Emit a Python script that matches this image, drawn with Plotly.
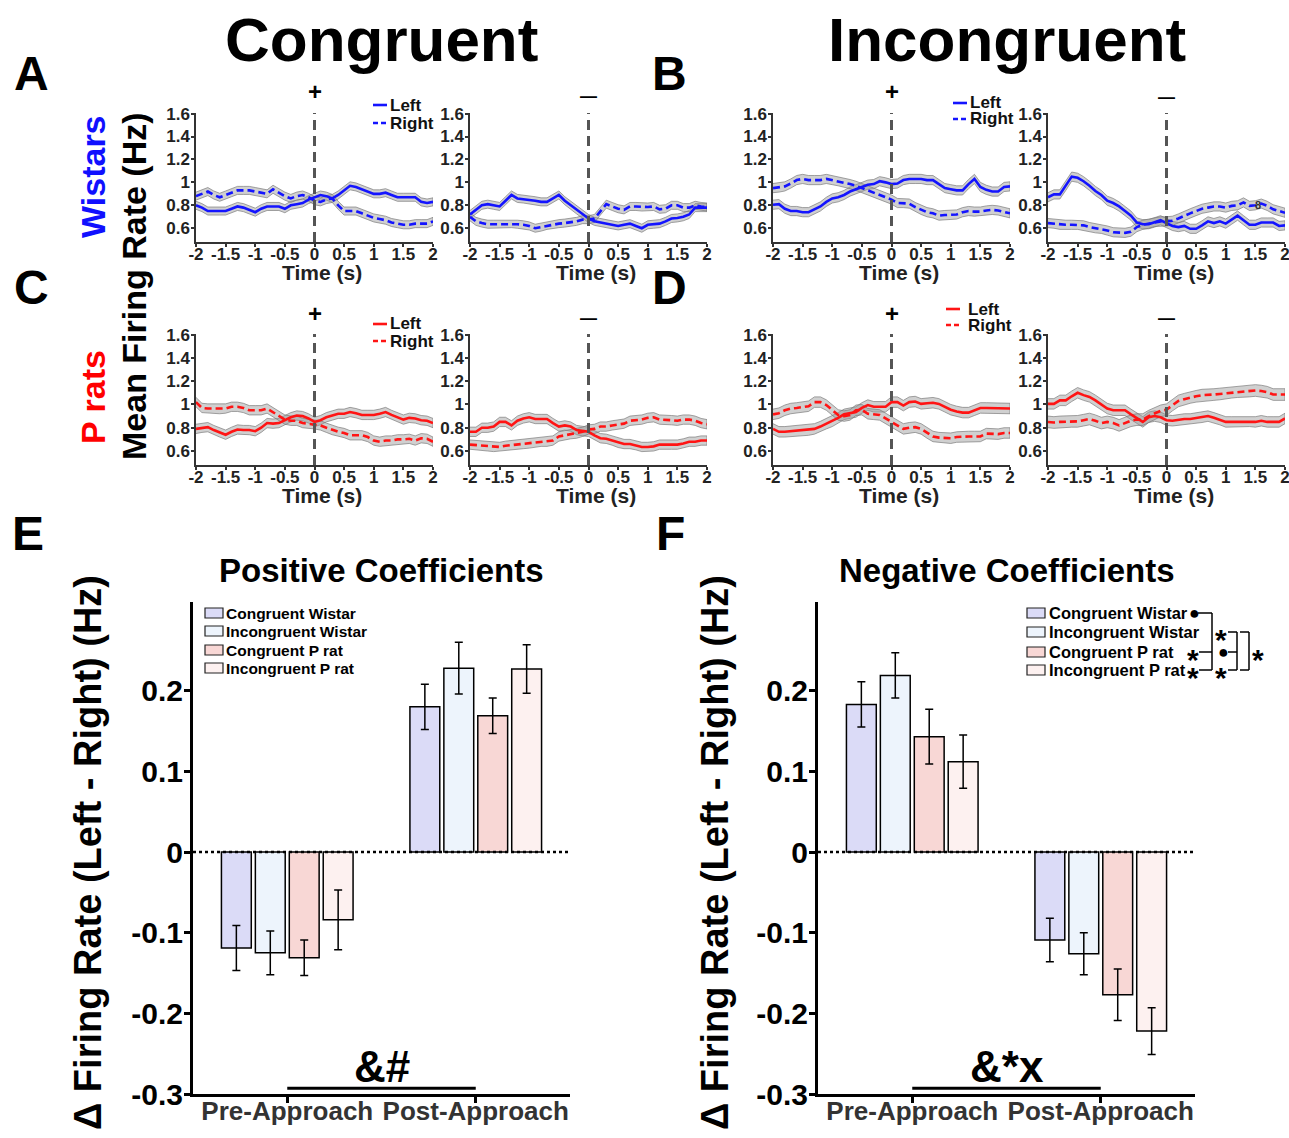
import numpy as np
import plotly.graph_objects as go

W, H = 1289, 1138
FONT = "Liberation Sans, Arial, Helvetica, sans-serif"
BLUE = "#1414ff"
RED = "#ff1414"

# ---------------- time-course data (mean firing rate, Hz) ----------------
time_s = np.round(np.arange(-2.0, 2.05, 0.1), 1).tolist()   # 41 samples, -2 .. 2 s

# A : Congruent, Wistar, positive (+) coefficients
A_pos_left = [0.80, 0.78, 0.75, 0.75, 0.75, 0.75, 0.77, 0.79, 0.78, 0.76,
              0.74, 0.77, 0.79, 0.79, 0.79, 0.77, 0.80, 0.81, 0.82, 0.85,
              0.87, 0.89, 0.88, 0.86, 0.89, 0.93, 0.97, 0.96, 0.94, 0.92,
              0.90, 0.90, 0.91, 0.89, 0.87, 0.87, 0.87, 0.87, 0.83, 0.82,
              0.83]
A_pos_right = [0.88, 0.90, 0.92, 0.89, 0.87, 0.89, 0.91, 0.93, 0.93, 0.93,
               0.92, 0.91, 0.90, 0.94, 0.91, 0.88, 0.86, 0.88, 0.89, 0.87,
               0.84, 0.83, 0.85, 0.86, 0.80, 0.75, 0.75, 0.75, 0.73, 0.71,
               0.69, 0.68, 0.67, 0.65, 0.64, 0.63, 0.63, 0.64, 0.64, 0.64,
               0.66]
# A : Congruent, Wistar, negative (-) coefficients
A_neg_left = [0.72, 0.76, 0.80, 0.81, 0.80, 0.79, 0.84, 0.89, 0.86, 0.855,
              0.85, 0.84, 0.83, 0.83, 0.86, 0.89, 0.84, 0.80, 0.76, 0.72,
              0.685, 0.66, 0.65, 0.64, 0.63, 0.62, 0.63, 0.64, 0.62, 0.60,
              0.63, 0.635, 0.64, 0.66, 0.685, 0.69, 0.70, 0.72, 0.78, 0.78,
              0.78]
A_neg_right = [0.70, 0.66, 0.645, 0.635, 0.635, 0.635, 0.64, 0.64, 0.635, 0.63,
               0.62, 0.60, 0.61, 0.625, 0.635, 0.64, 0.645, 0.65, 0.66, 0.675,
               0.675, 0.685, 0.75, 0.81, 0.79, 0.77, 0.76, 0.79, 0.79, 0.785,
               0.785, 0.79, 0.765, 0.77, 0.80, 0.80, 0.78, 0.78, 0.80, 0.79,
               0.785]
# B : Incongruent, Wistar
B_pos_left = [0.805, 0.81, 0.77, 0.75, 0.75, 0.74, 0.74, 0.765, 0.79, 0.83,
              0.86, 0.87, 0.89, 0.92, 0.94, 0.96, 0.98, 0.985, 1.01, 1.00,
              0.985, 0.99, 1.02, 1.03, 1.03, 1.03, 1.02, 1.02, 0.985, 0.95,
              0.94, 0.93, 0.93, 0.985, 1.03, 0.96, 0.935, 0.92, 0.92, 0.96,
              0.965]
B_pos_right = [0.95, 0.955, 0.965, 0.99, 1.02, 1.03, 1.02, 1.02, 1.02, 1.03,
               1.02, 1.01, 1.00, 0.985, 0.97, 0.95, 0.93, 0.915, 0.89, 0.87,
               0.85, 0.82, 0.82, 0.815, 0.785, 0.76, 0.74, 0.73, 0.71, 0.715,
               0.715, 0.72, 0.74, 0.75, 0.745, 0.745, 0.755, 0.76, 0.755, 0.745,
               0.73]
B_neg_left = [0.87, 0.895, 0.895, 0.97, 1.05, 1.04, 1.01, 0.97, 0.925, 0.89,
              0.84, 0.82, 0.79, 0.75, 0.71, 0.65, 0.635, 0.635, 0.65, 0.67,
              0.645, 0.62, 0.61, 0.62, 0.595, 0.595, 0.625, 0.66, 0.645, 0.66,
              0.64, 0.675, 0.71, 0.67, 0.63, 0.63, 0.65, 0.65, 0.65, 0.62,
              0.625]
B_neg_right = [0.645, 0.64, 0.63, 0.63, 0.63, 0.63, 0.625, 0.61, 0.60, 0.595,
               0.58, 0.565, 0.565, 0.56, 0.57, 0.61, 0.63, 0.64, 0.655, 0.66,
               0.66, 0.665, 0.685, 0.71, 0.73, 0.75, 0.77, 0.78, 0.79, 0.79,
               0.78, 0.795, 0.80, 0.825, 0.795, 0.80, 0.815, 0.795, 0.765, 0.75,
               0.735]
# C : Congruent, P rats
C_pos_left = [0.79, 0.80, 0.805, 0.78, 0.76, 0.74, 0.765, 0.785, 0.78, 0.78,
              0.77, 0.80, 0.84, 0.835, 0.84, 0.865, 0.89, 0.905, 0.90, 0.88,
              0.85, 0.865, 0.89, 0.905, 0.92, 0.92, 0.935, 0.925, 0.91, 0.91,
              0.91, 0.92, 0.935, 0.91, 0.89, 0.87, 0.885, 0.88, 0.865, 0.86,
              0.84]
C_pos_right = [1.02, 0.97, 0.965, 0.965, 0.96, 0.965, 0.98, 0.98, 0.97, 0.95,
               0.95, 0.95, 0.965, 0.935, 0.90, 0.87, 0.86, 0.86, 0.84, 0.835,
               0.83, 0.82, 0.80, 0.78, 0.765, 0.755, 0.735, 0.735, 0.735, 0.72,
               0.69, 0.68, 0.69, 0.69, 0.70, 0.70, 0.705, 0.69, 0.71, 0.705,
               0.68]
C_neg_left = [0.765, 0.765, 0.80, 0.80, 0.81, 0.85, 0.85, 0.82, 0.86, 0.88,
              0.89, 0.875, 0.875, 0.875, 0.84, 0.81, 0.82, 0.81, 0.78, 0.77,
              0.765, 0.735, 0.71, 0.705, 0.69, 0.67, 0.66, 0.66, 0.65, 0.635,
              0.635, 0.64, 0.655, 0.655, 0.655, 0.655, 0.665, 0.68, 0.68, 0.69,
              0.69]
C_neg_right = [0.655, 0.65, 0.645, 0.64, 0.635, 0.635, 0.645, 0.65, 0.655, 0.66,
               0.665, 0.67, 0.68, 0.68, 0.69, 0.725, 0.735, 0.745, 0.75, 0.765,
               0.785, 0.79, 0.81, 0.81, 0.82, 0.83, 0.835, 0.86, 0.865, 0.87,
               0.885, 0.89, 0.87, 0.87, 0.865, 0.86, 0.87, 0.87, 0.86, 0.84,
               0.83]
# D : Incongruent, P rats
D_pos_left = [0.79, 0.765, 0.765, 0.77, 0.775, 0.775, 0.78, 0.79, 0.81, 0.835,
              0.855, 0.885, 0.915, 0.925, 0.935, 0.97, 0.995, 0.98, 0.98, 0.98,
              1.02, 1.02, 0.99, 1.02, 1.025, 1.005, 1.01, 1.015, 1.005, 0.98,
              0.955, 0.94, 0.93, 0.93, 0.95, 0.97, 0.97, 0.97, 0.97, 0.965,
              0.965]
D_pos_right = [0.915, 0.925, 0.95, 0.965, 0.97, 0.98, 0.985, 1.02, 1.02, 0.995,
               0.955, 0.91, 0.90, 0.91, 0.95, 0.955, 0.92, 0.915, 0.91, 0.88,
               0.85, 0.82, 0.79, 0.80, 0.805, 0.79, 0.755, 0.725, 0.715, 0.715,
               0.71, 0.72, 0.725, 0.725, 0.725, 0.725, 0.75, 0.75, 0.745, 0.755,
               0.755]
D_neg_left = [1.005, 1.005, 1.035, 1.035, 1.07, 1.10, 1.08, 1.065, 1.035, 1.00,
              0.965, 0.95, 0.95, 0.95, 0.915, 0.88, 0.85, 0.89, 0.90, 0.89,
              0.865, 0.86, 0.87, 0.875, 0.875, 0.885, 0.89, 0.90, 0.885, 0.87,
              0.85, 0.85, 0.85, 0.855, 0.855, 0.85, 0.86, 0.85, 0.85, 0.85,
              0.88]
D_neg_right = [0.85, 0.845, 0.85, 0.85, 0.855, 0.855, 0.865, 0.875, 0.86, 0.84,
               0.85, 0.84, 0.82, 0.84, 0.86, 0.87, 0.87, 0.90, 0.92, 0.945,
               0.955, 0.995, 1.03, 1.045, 1.06, 1.07, 1.08, 1.08, 1.085, 1.09,
               1.095, 1.105, 1.11, 1.115, 1.115, 1.12, 1.115, 1.105, 1.085, 1.085,
               1.085]

# SEM half-widths of the grey bands (Hz)
sem_A = 0.035
sem_B = 0.04
sem_C = 0.04
sem_D = 0.045
sem_D_neg_right = 0.05

time_ticks = [-2, -1.5, -1, -0.5, 0, 0.5, 1, 1.5, 2]
time_ticktext = ["-2", "-1.5", "-1", "-0.5", "0", "0.5", "1", "1.5", "2"]
rate_ticks = [0.6, 0.8, 1.0, 1.2, 1.4, 1.6]
rate_ticktext = ["0.6", "0.8", "1", "1.2", "1.4", "1.6"]

# ---------------- bar data: delta firing rate (Left - Right), Hz ----------------
phases = ["Pre-Approach", "Post-Approach"]
groups = ["Congruent Wistar", "Incongruent Wistar", "Congruent P rat", "Incongruent P rat"]
group_colors = ["#dbdbf7", "#edf4fc", "#f8d7d5", "#fdf1f0"]

pos_cong_wistar = [-0.119, 0.180]
pos_incong_wistar = [-0.125, 0.228]
pos_cong_prat = [-0.131, 0.169]
pos_incong_prat = [-0.084, 0.227]
pos_cong_wistar_sem = [0.028, 0.028]
pos_incong_wistar_sem = [0.027, 0.032]
pos_cong_prat_sem = [0.022, 0.022]
pos_incong_prat_sem = [0.037, 0.030]

neg_cong_wistar = [0.183, -0.109]
neg_incong_wistar = [0.219, -0.126]
neg_cong_prat = [0.143, -0.177]
neg_incong_prat = [0.112, -0.222]
neg_cong_wistar_sem = [0.028, 0.027]
neg_incong_wistar_sem = [0.028, 0.026]
neg_cong_prat_sem = [0.034, 0.032]
neg_incong_prat_sem = [0.033, 0.029]

bar_ticks = [-0.3, -0.2, -0.1, 0, 0.1, 0.2]
bar_ticktext = ["-0.3", "-0.2", "-0.1", "0", "0.1", "0.2"]


def PX(x):
    return x / W


def PY(y):
    return 1 - y / H


fig = go.Figure()
layout = {}
shapes = []
annotations = []


def ann(text, x, y, size, color="black", angle=0, xanchor="center", yanchor="middle",
        xref="paper", yref="paper", convert=True):
    annotations.append(dict(
        text=text, x=PX(x) if convert else x, y=PY(y) if convert else y,
        xref=xref, yref=yref, showarrow=False, textangle=angle,
        xanchor=xanchor, yanchor=yanchor,
        font=dict(family=FONT, size=size, color=color, weight="bold")))


def pline(x0, y0, x1, y1, color="black", width=1.5, dash="solid"):
    shapes.append(dict(type="line", xref="paper", yref="paper",
                       x0=PX(x0), y0=PY(y0), x1=PX(x1), y1=PY(y1),
                       line=dict(color=color, width=width, dash=dash)))


small_panels = [
    dict(left=A_pos_left, right=A_pos_right, sl=sem_A, sr=sem_A, color=BLUE,
         x0=196, x1=433, y0=113, y1=242, mark="+", my=92),
    dict(left=A_neg_left, right=A_neg_right, sl=sem_A, sr=sem_A, color=BLUE,
         x0=470, x1=707, y0=113, y1=242, mark="—", my=96),
    dict(left=B_pos_left, right=B_pos_right, sl=sem_B, sr=sem_B, color=BLUE,
         x0=773, x1=1010, y0=113, y1=242, mark="+", my=92),
    dict(left=B_neg_left, right=B_neg_right, sl=sem_B, sr=sem_B, color=BLUE,
         x0=1048, x1=1285, y0=113, y1=242, mark="—", my=97),
    dict(left=C_pos_left, right=C_pos_right, sl=sem_C, sr=sem_C, color=RED,
         x0=196, x1=433, y0=334, y1=465, mark="+", my=313),
    dict(left=C_neg_left, right=C_neg_right, sl=sem_C, sr=sem_C, color=RED,
         x0=470, x1=707, y0=334, y1=465, mark="—", my=318),
    dict(left=D_pos_left, right=D_pos_right, sl=sem_D, sr=sem_D, color=RED,
         x0=773, x1=1010, y0=334, y1=465, mark="+", my=313),
    dict(left=D_neg_left, right=D_neg_right, sl=sem_D, sr=sem_D_neg_right, color=RED,
         x0=1048, x1=1285, y0=334, y1=465, mark="—", my=318),
]

SMALL_TICKFONT = dict(family=FONT, size=17, color="#222", weight="bold")
DASH_R = "7px,4px"

for i, p in enumerate(small_panels, start=1):
    s = "" if i == 1 else str(i)
    xa, ya = "x" + s, "y" + s
    for series, sem in ((p["left"], p["sl"]), (p["right"], p["sr"])):
        m = np.array(series)
        up = (m + sem).tolist()
        lo = (m - sem).tolist()
        fig.add_trace(go.Scatter(
            x=time_s + time_s[::-1], y=up + lo[::-1], mode="lines", fill="toself",
            fillcolor="rgba(150,150,150,0.45)", line=dict(color="rgba(120,120,120,0.85)", width=0.8),
            xaxis=xa, yaxis=ya, hoverinfo="skip", showlegend=False))
    for series, dash, name in ((p["left"], "solid", "Left"), (p["right"], DASH_R, "Right")):
        fig.add_trace(go.Scatter(
            x=time_s, y=series, mode="lines", name=name,
            line=dict(color=p["color"], width=2.6, dash=dash),
            xaxis=xa, yaxis=ya, showlegend=False))
    layout["xaxis" + s] = dict(
        domain=[PX(p["x0"]), PX(p["x1"])], anchor=ya, range=[-2, 2],
        showline=True, linecolor="#333", linewidth=1.5, ticks="outside", ticklen=3,
        tickwidth=1.5, tickcolor="#333", tickvals=time_ticks, ticktext=time_ticktext,
        tickfont=SMALL_TICKFONT, showgrid=False, zeroline=False, automargin=False,
        ticklabelstandoff=-7, ticklabeloverflow="allow")
    layout["yaxis" + s] = dict(
        domain=[PY(p["y1"]), PY(p["y0"])], anchor=xa, range=[0.48, 1.605],
        showline=True, linecolor="#333", linewidth=1.5, ticks="outside", ticklen=3,
        tickwidth=1.5, tickcolor="#333", tickvals=rate_ticks, ticktext=rate_ticktext,
        tickfont=SMALL_TICKFONT, showgrid=False, zeroline=False, automargin=False,
        ticklabelstandoff=-2, ticklabeloverflow="allow")
    # event onset line at t = 0
    shapes.append(dict(type="line", xref=xa, yref=ya + " domain", x0=0, x1=0, y0=0, y1=1,
                       line=dict(color="#555", width=3, dash="10px,6px")))
    ann("Time (s)", (p["x0"] + p["x1"]) / 2 + 7, p["y1"] + 30, 21, color="#222")
    cx = p["x0"] + (p["x1"] - p["x0"]) / 2
    ann(p["mark"], cx, p["my"], 24 if p["mark"] == "+" else 17)

# Left / Right legends of the time courses
for (lx, ly1, ly2, col, tx) in ((373, 105, 123, BLUE, 388), (953, 103, 119, BLUE, 968),
                                (373, 324, 341, RED, 388), (946, 309, 325, RED, 966)):
    pline(lx, ly1, lx + 14, ly1, color=col, width=2.6)
    pline(lx, ly2, lx + 14, ly2, color=col, width=2.6, dash="5px,3px")
    ann("Left", tx, ly1, 17, color="#111", xanchor="left")
    ann("Right", tx, ly2, 17, color="#111", xanchor="left")

ann("8", 1258, 205, 11, color="#333")

# ---------------- bar charts ----------------
bar_sets = [
    ("x9", "y9", [pos_cong_wistar, pos_incong_wistar, pos_cong_prat, pos_incong_prat],
     [pos_cong_wistar_sem, pos_incong_wistar_sem, pos_cong_prat_sem, pos_incong_prat_sem], 193, 570),
    ("x10", "y10", [neg_cong_wistar, neg_incong_wistar, neg_cong_prat, neg_incong_prat],
     [neg_cong_wistar_sem, neg_incong_wistar_sem, neg_cong_prat_sem, neg_incong_prat_sem], 818, 1195),
]
for xa, ya, means, sems, bx0, bx1 in bar_sets:
    for g, col, mv, sv in zip(groups, group_colors, means, sems):
        fig.add_trace(go.Bar(
            x=phases, y=mv, name=g, marker=dict(color=col, line=dict(color="black", width=1.5)),
            error_y=dict(type="data", array=sv, color="black", thickness=1.5, width=4),
            xaxis=xa, yaxis=ya, showlegend=False))
    n = xa[1:]
    layout["xaxis" + n] = dict(
        domain=[PX(bx0), PX(bx1)], anchor=ya, type="category", range=[-0.5, 1.5],
        categoryorder="array", categoryarray=phases,
        showline=True, linecolor="black", linewidth=3, ticks="outside", ticklen=6,
        tickwidth=3, tickcolor="black",
        tickfont=dict(family=FONT, size=26, color="#333", weight="bold"),
        showgrid=False, zeroline=False, automargin=False,
        ticklabelstandoff=-14, ticklabeloverflow="allow")
    layout["yaxis" + n] = dict(
        domain=[PY(1094), PY(602)], anchor=xa, range=[-0.3, 0.31],
        showline=True, linecolor="black", linewidth=3, ticks="outside", ticklen=6,
        tickwidth=3, tickcolor="black", tickvals=bar_ticks, ticktext=bar_ticktext,
        tickfont=dict(family=FONT, size=30, color="black", weight="bold"),
        showgrid=False, zeroline=False, automargin=False,
        ticklabelstandoff=-5, ticklabeloverflow="allow")
    # dotted zero line
    shapes.append(dict(type="line", xref=xa + " domain", yref=ya, x0=0, x1=1, y0=0, y1=0,
                       line=dict(color="black", width=2.5, dash="dot")))
    # significance bar across phases
    shapes.append(dict(type="line", xref=xa, yref=ya, x0=0, x1=1, y0=-0.293, y1=-0.293,
                       line=dict(color="black", width=3)))

ann("&#", 0.5, -0.266, 44, xref="x9", yref="y9", convert=False)
ann("&*x", 0.5, -0.266, 44, xref="x10", yref="y10", convert=False)

# manual legends for bar charts
for (sx, tx, rows, fs) in ((205, 224, [613, 631, 650, 668], 15.5),
                           (1027, 1047, [613, 632, 652, 670], 16.5)):
    for g, col, ry in zip(groups, group_colors, rows):
        shapes.append(dict(type="rect", xref="paper", yref="paper",
                           x0=PX(sx), x1=PX(sx + 18), y0=PY(ry + 5), y1=PY(ry - 5),
                           fillcolor=col, line=dict(color="#222", width=1.2)))
        ann(g, tx, ry, fs, xanchor="left")

# significance brackets in F legend
ann("●", 1194, 613, 18)
pline(1198, 613, 1212, 613)
pline(1212, 613, 1212, 670)
ann("*", 1193, 659, 30)
pline(1199, 652, 1212, 652)
ann("*", 1193, 677, 30)
pline(1199, 670, 1212, 670)
ann("*", 1221, 639, 30)
pline(1228, 632, 1237, 632)
ann("●", 1223, 652, 18)
pline(1228, 652, 1237, 652)
ann("*", 1221, 677, 30)
pline(1228, 670, 1237, 670)
pline(1237, 632, 1237, 670)
pline(1240, 632, 1249, 632)
pline(1249, 632, 1249, 670)
pline(1240, 670, 1249, 670)
ann("*", 1258, 659, 30)

# ---------------- titles & labels ----------------
ann("Congruent", 381, 40, 62)
ann("Incongruent", 1007, 40, 62)
for letter, lx, ly in (("A", 31, 73), ("B", 669, 73), ("C", 31, 288), ("D", 669, 288),
                       ("E", 28, 533), ("F", 670, 533)):
    ann(letter, lx, ly, 48)
ann("Wistars", 93, 177, 34, color="#1010ff", angle=-90)
ann("P rats", 93, 397, 34, color="#ff0000", angle=-90)
ann("Mean Firing Rate (Hz)", 134, 286, 34, angle=-90)
ann("Positive Coefficients", 381, 570, 33)
ann("Negative Coefficients", 1007, 570, 33)
ann("Δ Firing Rate (Left - Right) (Hz)", 88, 853, 38, angle=-90)
ann("Δ Firing Rate (Left - Right) (Hz)", 715, 853, 38, angle=-90)

fig.update_layout(
    width=W, height=H, margin=dict(l=0, r=0, t=0, b=0),
    paper_bgcolor="white", plot_bgcolor="white",
    barmode="group", bargap=0.28, bargroupgap=0.12,
    showlegend=False, shapes=shapes, annotations=annotations,
    font=dict(family=FONT), **layout)

fig.write_html("out.html")
